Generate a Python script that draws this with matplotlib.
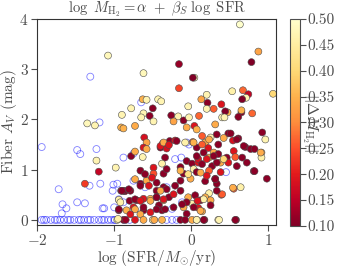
import numpy as np
import matplotlib
matplotlib.use("Agg")
import matplotlib.pyplot as plt

plt.rcParams['font.family'] = 'serif'
plt.rcParams['font.serif'] = ['cmr10']
plt.rcParams['mathtext.fontset'] = 'cm'
plt.rcParams['axes.formatter.use_mathtext'] = True
plt.rcParams['font.size'] = 11

# galaxies without H2 estimate (open blue circles)
blue_x = [-1.94, -1.91, -1.88, -1.82, -1.77, -1.74, -1.70, -1.65, -1.60, -1.57, -1.52,
          -1.46, -1.43, -1.39, -1.34, -1.31, -1.26, -1.20, -1.16, -1.13, -1.08, -1.04,
          -1.00, -0.99, -0.87, -0.80, -0.49, -0.32, -0.25, -0.19,
          -1.31, -0.65, -1.19, -1.94, -1.48, -1.44, -1.23, -0.88, -1.32, -1.18, -1.01,
          -0.96, -1.72, -1.02, -0.94, -0.88, -1.67, -1.62, -1.48, -1.38, -1.68, -1.15,
          -1.13, -1.00, -0.75, -0.06, -0.03, -0.21, -0.13, -0.75, -0.60, -0.32, -0.12,
          -0.73, -0.25, 0.45]
blue_y = [0, 0, 0, 0, 0, 0, 0, 0, 0, 0, 0,
          0, 0, 0, 0, 0, 0, 0, 0, 0, 0, 0,
          0, 0, 0, 0, 0, 0, 0, 0,
          2.85, 2.34, 1.94, 1.45, 1.39, 1.31, 1.41, 1.24, 0.68, 0.72, 0.70,
          0.72, 0.61, 0.58, 0.41, 0.35, 0.31, 0.23, 0.35, 0.33, 0.13, 0.23,
          0.23, 0.25, 1.32, 1.54, 1.50, 1.21, 1.24, 0.78, 0.65, 0.65, 0.35,
          0.12, 0.22, 0.95]

# galaxies with H2 estimate: SFR, A_V and |dM_H2|
sfr = [0.63, 0.87, -1.08, 0.78, -0.16, -0.62, 0.04, 0.02, -0.16, 0.20, 0.53, 0.67,
       0.74, 0.71, 0.66, 1.06, -0.63, -0.58, -0.43, -0.39, -0.78, -0.50, -0.90, -0.62,
       -0.54, -0.04, 0.13, 0.21, 0.20, 0.29, 0.39, 0.47, 0.44, 0.65, 0.65, 0.79,
       -0.26, -0.17, 0.10, 0.40, 0.61,
       -1.35, -1.25, -0.91, -1.23, -0.98, -1.20, -1.38, -0.91, -0.86, -0.94, -0.94,
       -0.65, -0.49, -0.23, -0.10, -0.03, -0.06, 0.04, -0.73, -0.88, -0.61, -0.58,
       -0.62, -0.37, -0.28, -0.21, -0.40, -0.32, 0.02, -0.58, 0.07, -0.78, -0.73,
       -0.63, -0.34, -0.38, -0.49, -0.06, 0.01, 0.09, -0.14,
       0.43, 0.31, 0.07, 0.33, 0.48, 0.25, 0.14, 0.42, 0.54, 0.61, 0.70, 0.77, 0.92,
       0.96, 0.91, 0.91, 0.35, 0.18, 0.22, 0.29, 0.35, 0.55, 0.57, 0.46, 0.66, 0.09,
       0.23, 0.14, 0.48, 0.59, 0.72, 0.38, 0.27,
       -0.66, -0.49, -0.36, -0.32, -0.58, -0.66, -0.45, -0.36, -0.21, -0.14, -0.01,
       -0.10, -0.14, 0.03, -0.88, -0.79, -0.71, -0.62, -0.53, -0.45, -0.36, -0.29,
       -0.04, 0.01, -0.42, -0.38, -0.75, -0.62, -0.84, -0.92, -0.10, -0.06,
       0.07, 0.23, 0.38, 0.81, 0.98, 0.18, 0.33, 0.31, 0.55, 0.64, 0.39, 0.23, 0.18,
       0.25, 0.12, 0.25, 0.09, 0.14, 0.05,
       -0.40, -0.36, -0.29, -0.19, -0.08, 0.03, 0.14, 0.23, 0.51, 0.59, 0.68, 0.82,
       0.90, 0.16, 0.07, 0.20, 0.29, 0.33, 0.42, 0.82, 0.31, 0.20, 0.12, -0.04, 0.54,
       0.40, 0.16, 0.33, 0.08, 0.12, 0.03, -0.06, -0.14, -0.23, -0.32, -0.40, -0.45,
       -0.51, -0.60, -0.55, -0.66, -0.73, -0.81, -0.90, -0.80, -0.73, -0.66, -0.53,
       -0.45, -0.36, -0.94, -0.73, -0.62, -0.53, -0.45, -0.34, -0.23, -0.12, -0.79,
       -0.66,
       -0.96, -0.88, -0.73, -0.62, -0.50, -0.48, -0.38, -0.14, -0.08, 0.01, 0.07,
       0.17, 0.35, 0.58, 0.07, 0.16, 0.36, 0.57, -0.95, -0.85]
av = [3.89, 3.35, 3.27, 3.14, 3.10, 2.92, 2.83, 2.83, 2.62, 2.49, 2.56, 2.58,
      2.50, 2.43, 2.40, 2.51, 2.40, 2.39, 2.40, 2.36, 2.22, 2.22, 2.09, 2.12,
      2.07, 2.26, 2.40, 2.33, 2.21, 2.21, 2.30, 2.14, 2.16, 2.14, 2.18, 2.12,
      2.08, 2.06, 2.07, 2.04, 2.05,
      1.92, 1.88, 1.84, 1.18, 1.04, 0.96, 0.72, 0.58, 0.57, 0.40, 0.19,
      2.04, 1.96, 1.96, 1.98, 2.04, 1.84, 1.87, 1.87, 1.82, 1.64, 1.54,
      1.44, 1.52, 1.57, 1.58, 1.44, 1.42, 1.55, 1.41, 1.44, 1.27, 1.36,
      1.25, 1.24, 1.12, 1.04, 1.17, 1.12, 1.14, 1.05,
      2.04, 1.90, 1.80, 1.70, 1.72, 1.64, 1.67, 1.63, 1.58, 1.62, 1.45, 1.41, 1.74,
      1.60, 1.34, 1.24, 1.50, 1.54, 1.43, 1.34, 1.31, 1.37, 1.25, 1.24, 1.24, 1.21,
      1.24, 1.11, 1.14, 1.07, 1.14, 1.14, 1.07,
      0.98, 0.92, 0.92, 1.01, 0.78, 0.72, 0.58, 0.65, 0.68, 0.78, 0.82,
      0.92, 0.98, 1.01, 0.58, 0.58, 0.39, 0.42, 0.42, 0.45, 0.39, 0.45,
      0.45, 0.32, 0.29, 0.19, 0.25, 0.19, 0.19, 0.35, 0.25, 0.12,
      0.95, 0.98, 0.95, 0.97, 0.82, 0.77, 0.72, 0.82, 0.62, 0.65, 0.50, 0.53, 0.45,
      0.39, 0.39, 0.29, 0.24, 0.17, 0.49,
      1.47, 1.54, 1.49, 1.57, 1.54, 1.54, 1.50, 1.60, 1.72, 1.60, 1.47, 1.41,
      1.34, 1.34, 1.27, 1.21, 1.27, 1.14, 1.21, 0.97, 0.81, 0.88, 0.94, 0.91, 0.64,
      0.51, 0.41, 0.58, 0.38, 0.18, 0.25, 0.35, 0.58, 0.51, 0.61, 0.58, 0.74,
      0.84, 0.91, 0.68, 0.68, 0.81, 0.61, 0.58, 0.38, 0.41, 0.38, 0.38,
      0.45, 0.41, 0.21, 0.21, 0.25, 0.15, 0.21, 0.21, 0.25, 0.31, 0.11,
      0.11,
      0.0, 0.0, 0.0, 0.0, 0.0, 0.0, 0.0, 0.0, 0.0, 0.0, 0.0,
      0.0, 0.0, 0.0, 0.0, 0.0, 0.0, 0.0, 0.02, 0.0]
dmh2 = [0.50, 0.33, 0.48, 0.10, 0.12, 0.48, 0.47, 0.10, 0.24, 0.47, 0.46, 0.27,
        0.16, 0.47, 0.10, 0.40, 0.35, 0.47, 0.47, 0.47, 0.47, 0.11, 0.47, 0.47,
        0.11, 0.47, 0.33, 0.11, 0.47, 0.26, 0.19, 0.35, 0.10, 0.11, 0.35, 0.27,
        0.11, 0.47, 0.27, 0.47, 0.11,
        0.48, 0.47, 0.35, 0.47, 0.47, 0.16, 0.23, 0.11, 0.11, 0.46, 0.11,
        0.47, 0.47, 0.33, 0.11, 0.47, 0.34, 0.19, 0.34, 0.35, 0.18, 0.33,
        0.19, 0.26, 0.11, 0.19, 0.11, 0.18, 0.27, 0.34, 0.11, 0.11, 0.34,
        0.47, 0.11, 0.46, 0.19, 0.11, 0.11, 0.19, 0.11,
        0.47, 0.34, 0.35, 0.11, 0.11, 0.47, 0.26, 0.34, 0.18, 0.11, 0.11, 0.11, 0.11,
        0.47, 0.34, 0.46, 0.11, 0.34, 0.19, 0.34, 0.11, 0.19, 0.26, 0.11, 0.11, 0.18,
        0.34, 0.11, 0.19, 0.11, 0.11, 0.34, 0.11,
        0.11, 0.25, 0.11, 0.11, 0.34, 0.11, 0.11, 0.11, 0.11, 0.11, 0.34,
        0.11, 0.35, 0.46, 0.11, 0.11, 0.11, 0.19, 0.35, 0.11, 0.34, 0.11,
        0.34, 0.46, 0.11, 0.11, 0.19, 0.11, 0.35, 0.46, 0.34, 0.11,
        0.11, 0.26, 0.19, 0.11, 0.11, 0.11, 0.11, 0.11, 0.26, 0.46, 0.26, 0.46, 0.35,
        0.34, 0.11, 0.11, 0.19, 0.34, 0.11,
        0.19, 0.34, 0.19, 0.11, 0.46, 0.35, 0.26, 0.34, 0.11, 0.11, 0.11, 0.11,
        0.34, 0.11, 0.11, 0.19, 0.11, 0.11, 0.40, 0.11, 0.11, 0.19, 0.34, 0.42, 0.34,
        0.26, 0.46, 0.11, 0.19, 0.34, 0.11, 0.11, 0.11, 0.19, 0.11, 0.34, 0.11,
        0.19, 0.11, 0.19, 0.11, 0.34, 0.11, 0.11, 0.11, 0.11, 0.19, 0.34,
        0.11, 0.19, 0.11, 0.34, 0.11, 0.19, 0.11, 0.11, 0.11, 0.11, 0.19,
        0.34,
        0.47, 0.12, 0.19, 0.34, 0.46, 0.34, 0.35, 0.11, 0.11, 0.34, 0.38,
        0.11, 0.46, 0.11, 0.47, 0.11, 0.47, 0.11, 0.46, 0.12]

fig = plt.figure(figsize=(3.6, 2.7), dpi=100)
ax = fig.add_axes([0.103, 0.167, 0.664, 0.763])
cax = fig.add_axes([0.806, 0.163, 0.028, 0.767])

ax.scatter(blue_x, blue_y, s=25, facecolors='none', edgecolors='blue',
           linewidths=0.6, alpha=0.5)
sc = ax.scatter(sfr, av, c=dmh2, s=25, cmap='YlOrRd_r', vmin=0.1, vmax=0.5,
                edgecolors='0.3', linewidths=0.4)

ax.set_xlim(-2.0, 1.1)
ax.set_ylim(-0.1, 4.0)
ax.set_xticks([-2, -1, 0, 1])
ax.set_yticks([0, 1, 2, 3, 4])
ax.set_xlabel(r'$\log\,({\rm SFR}/M_{\odot}/{\rm yr})$', color='0.3', labelpad=0)
ax.set_ylabel(r'Fiber $A_V$ (mag)', color='0.3', labelpad=0)
ax.set_title(r'$\log\ M_{\rm H_2} = \alpha\ +\ \beta_S\ \log\ {\rm SFR}$',
             color='0.3', pad=0, fontsize=10.5)
ax.tick_params(colors='0.3', length=4, width=0.8, pad=2)
for s in ax.spines.values():
    s.set_color('0.2')
    s.set_linewidth(0.8)

cb = fig.colorbar(sc, cax=cax)
cb.set_ticks([0.10, 0.15, 0.20, 0.25, 0.30, 0.35, 0.40, 0.45, 0.50])
cb.ax.yaxis.set_major_formatter(matplotlib.ticker.FormatStrFormatter('%.2f'))
cb.ax.tick_params(colors='0.3', length=4, width=0.8, pad=1, labelsize=11)
cb.outline.set_edgecolor('0.3')
cb.outline.set_linewidth(0.8)
cb.set_label(r'$||\Delta M_{\rm H_2}||$', rotation=270, color='0.3', labelpad=-11)

fig.savefig('out.png', dpi=100)
